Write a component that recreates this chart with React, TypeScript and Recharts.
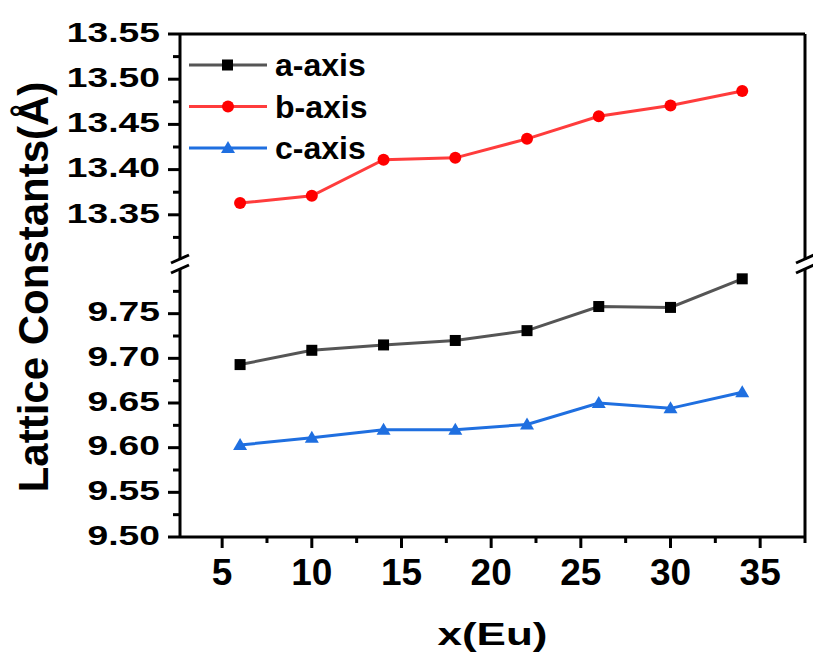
import React from "react";
import { Legend, Line, LineChart, ReferenceLine, XAxis, YAxis } from "recharts";

const xEu = [6, 10, 14, 18, 22, 26, 30, 34];
const aAxis = [9.693, 9.709, 9.715, 9.72, 9.731, 9.758, 9.757, 9.789];
const bAxis = [13.363, 13.371, 13.411, 13.413, 13.434, 13.459, 13.471, 13.487];
const cAxis = [9.603, 9.611, 9.62, 9.62, 9.626, 9.65, 9.644, 9.662];

const xTicks = [5, 7.5, 10, 12.5, 15, 17.5, 20, 22.5, 25, 27.5, 30, 32.5, 35, 37.5];
const upperTicks = [13.325, 13.35, 13.375, 13.4, 13.425, 13.45, 13.475, 13.5, 13.525, 13.55];
const lowerTicks = [9.5, 9.525, 9.55, 9.575, 9.6, 9.625, 9.65, 9.675, 9.7, 9.725, 9.75, 9.775];

const seriesNames = ["a-axis", "b-axis", "c-axis"];

const rows = xEu.map((x, i) => ({ x, a: aAxis[i], b: bAxis[i], c: cAxis[i] }));

const FONT = '"Liberation Sans", Arial, sans-serif';
const X_DOMAIN: [number, number] = [2.65, 37.5];
const GRAY = "#555555";
const RED_LINE = "#ff3c3c";
const RED = "#ff0000";
const BLUE = "#1f6fe0";

const isMajor = (v: number, step: number) => Math.abs(v / step - Math.round(v / step)) < 1e-6;

function Square(props: any) {
  const { cx, cy, index } = props;
  if (cx == null || cy == null) return <g key={index} />;
  return <rect key={index} x={cx - 5.5} y={cy - 5.5} width={11} height={11} fill="#000" />;
}

function Dot(props: any) {
  const { cx, cy, index } = props;
  if (cx == null || cy == null) return <g key={index} />;
  return <circle key={index} cx={cx} cy={cy} r={6} fill={RED} />;
}

function Tri(props: any) {
  const { cx, cy, index } = props;
  if (cx == null || cy == null) return <g key={index} />;
  return <polygon key={index} points={`${cx},${cy - 7} ${cx + 7},${cy + 5} ${cx - 7},${cy + 5}`} fill={BLUE} />;
}

function YTick(props: any) {
  const { x, y, payload } = props;
  const v = payload.value as number;
  const major = isMajor(v, 0.05);
  return (
    <g>
      <line x1={x - (major ? 12 : 7)} x2={x} y1={y} y2={y} stroke="#000" strokeWidth={3} />
      {major && (
        <text
          transform={`translate(${x - 20},${y - 2}) scale(1.33,1)`}
          textAnchor="end"
          dominantBaseline="central"
          fontSize={28}
          fontWeight="bold"
          fontFamily={FONT}
          fill="#000"
        >
          {v.toFixed(2)}
        </text>
      )}
    </g>
  );
}

function XTick(props: any) {
  const { x, y, payload } = props;
  const v = payload.value as number;
  const major = isMajor(v, 5);
  return (
    <g>
      <line x1={x} x2={x} y1={y} y2={y + (major ? 11 : 6)} stroke="#000" strokeWidth={3} />
      {major && (
        <text x={x} y={y + 48} textAnchor="middle" fontSize={37} fontWeight="bold" fontFamily={FONT} fill="#000">
          {v}
        </text>
      )}
    </g>
  );
}

function XTitle(props: any) {
  const { viewBox } = props;
  const cx = viewBox.x + viewBox.width / 2;
  return (
    <text
      transform={`translate(${cx},${viewBox.y + 108}) scale(1.42,1)`}
      textAnchor="middle"
      fontSize={31}
      fontWeight="bold"
      fontFamily={FONT}
      fill="#000"
    >
      x(Eu)
    </text>
  );
}

function LegendBox() {
  const marks = [
    { line: GRAY, mark: <rect x={33} y={-5.5} width={11} height={11} fill="#000" /> },
    { line: RED_LINE, mark: <circle cx={39} cy={0} r={6} fill={RED} /> },
    { line: BLUE, mark: <polygon points="39,-7 46,5 32,5" fill={BLUE} /> },
  ];
  return (
    <svg width={200} height={130}>
      {seriesNames.map((name, i) => (
        <g key={name} transform={`translate(0,${20 + i * 41.5})`}>
          <line x1={0} x2={78} y1={0} y2={0} stroke={marks[i].line} strokeWidth={3} />
          {marks[i].mark}
          <text x={86} y={0} dominantBaseline="central" fontSize={32} fontWeight="bold" fontFamily={FONT} fill="#000">
            {name}
          </text>
        </g>
      ))}
    </svg>
  );
}

function Breaks() {
  const slash = (x: number, y: number, k: string) => (
    <line key={k} x1={x - 9} y1={y + 4} x2={x + 9} y2={y - 4} stroke="#000" strokeWidth={3} />
  );
  return (
    <g>
      {slash(180, 259, "l1")}
      {slash(180, 269, "l2")}
      {slash(805, 259, "r1")}
      {slash(805, 269, "r2")}
    </g>
  );
}

export default function App() {
  return (
    <div style={{ position: "absolute", left: 0, top: 0, width: 813, height: 657, background: "#fff" }}>
      <div style={{ position: "absolute", left: 0, top: 0 }}>
        <LineChart width={813} height={262} data={rows} margin={{ top: 34, right: 8, left: 80, bottom: 2 }}>
          <XAxis dataKey="x" type="number" domain={X_DOMAIN} allowDataOverflow hide />
          <YAxis
            type="number"
            domain={[13.3, 13.55]}
            allowDataOverflow
            ticks={upperTicks}
            interval={0}
            width={100}
            tickSize={0}
            tickMargin={0}
            tickLine={false}
            axisLine={{ stroke: "#000", strokeWidth: 3 }}
            tick={<YTick />}
          />
          <ReferenceLine y={13.55} stroke="#000" strokeWidth={3} />
          <ReferenceLine x={37.5} stroke="#000" strokeWidth={3} />
          <Legend
            layout="horizontal"
            verticalAlign="middle"
            align="center"
            content={() => <LegendBox />}
            wrapperStyle={{ position: "absolute", left: 189, top: 45, width: 200, height: 130 }}
          />
          <Line dataKey="b" name="b-axis" stroke={RED_LINE} strokeWidth={3} dot={Dot} isAnimationActive={false} />
        </LineChart>
      </div>
      <div style={{ position: "absolute", left: 0, top: 262 }}>
        <LineChart width={813} height={395} data={rows} margin={{ top: 7, right: 8, left: 80, bottom: 0 }}>
          <XAxis
            dataKey="x"
            type="number"
            domain={X_DOMAIN}
            allowDataOverflow
            ticks={xTicks}
            interval={0}
            height={120}
            tickSize={0}
            tickMargin={0}
            tickLine={false}
            axisLine={{ stroke: "#000", strokeWidth: 3 }}
            tick={<XTick />}
            label={<XTitle />}
          />
          <YAxis
            type="number"
            domain={[9.5, 9.8]}
            allowDataOverflow
            ticks={lowerTicks}
            interval={0}
            width={100}
            tickSize={0}
            tickMargin={0}
            tickLine={false}
            axisLine={{ stroke: "#000", strokeWidth: 3 }}
            tick={<YTick />}
          />
          <ReferenceLine x={37.5} stroke="#000" strokeWidth={3} />
          <Line dataKey="a" name="a-axis" stroke={GRAY} strokeWidth={3} dot={Square} isAnimationActive={false} />
          <Line dataKey="c" name="c-axis" stroke={BLUE} strokeWidth={3} dot={Tri} isAnimationActive={false} />
        </LineChart>
      </div>
      <svg width={813} height={657} style={{ position: "absolute", left: 0, top: 0, pointerEvents: "none" }}>
        <Breaks />
        <text
          transform="translate(48,287) rotate(-90)"
          textAnchor="middle"
          fontSize={42}
          fontWeight="bold"
          fontFamily={FONT}
          fill="#000"
        >
          Lattice Constants(Å)
        </text>
      </svg>
    </div>
  );
}
